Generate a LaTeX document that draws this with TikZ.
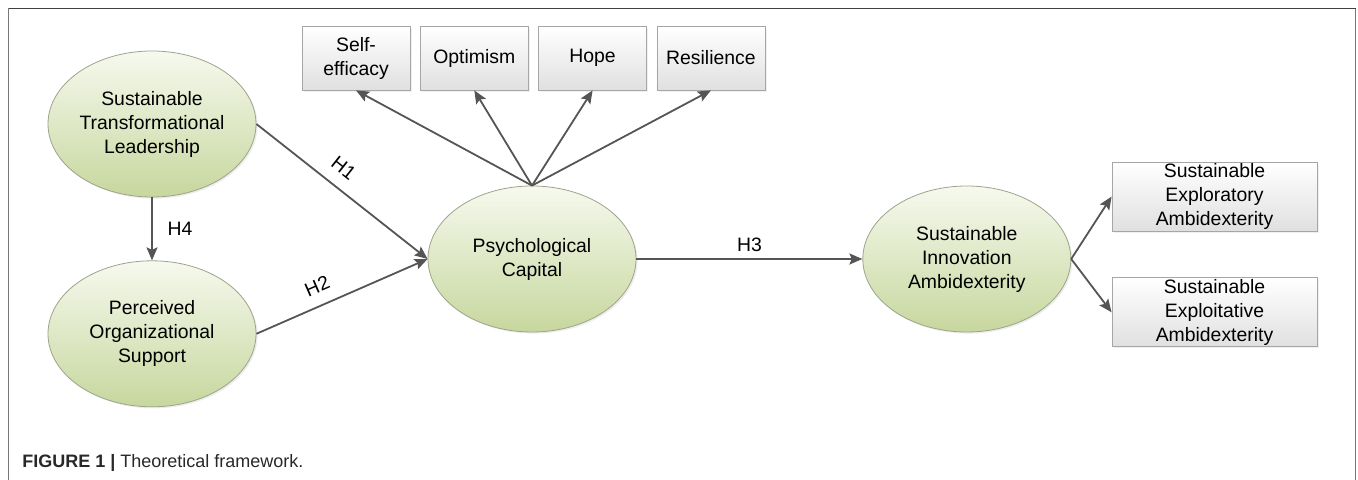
\documentclass[tikz,border=0pt]{standalone}
\usepackage{fontspec}
\setmainfont{Liberation Sans}
\usetikzlibrary{shapes.geometric, arrows.meta}
\usetikzlibrary{positioning, shadows}
\definecolor{ovalline}{RGB}{158,164,138}
\definecolor{ovaltop}{RGB}{246,249,238}
\definecolor{ovalbot}{RGB}{199,215,158}
\definecolor{boxline}{RGB}{166,166,166}
\definecolor{boxbot}{RGB}{224,224,224}
\definecolor{aline}{RGB}{85,85,85}
\definecolor{framecol}{RGB}{120,120,120}
\definecolor{capcol}{RGB}{40,40,40}
\tikzstyle{oval} = [ellipse, draw=ovalline, top color=ovaltop, bottom color=ovalbot, minimum width=104pt, minimum height=73pt, inner sep=0pt, align=center, drop shadow={opacity=0.15, shadow xshift=0.8pt, shadow yshift=-0.8pt}]
\tikzstyle{dim} = [rectangle, draw=boxline, top color=white, bottom color=boxbot, minimum width=54pt, minimum height=32pt, inner sep=0pt, align=center, drop shadow={opacity=0.12, shadow xshift=0.8pt, shadow yshift=-0.8pt}]
\tikzstyle{wide} = [dim, minimum width=102.5pt, minimum height=34.5pt]
\tikzstyle{aro} = [-{Stealth[length=6.5pt, width=5.5pt, inset=1.2pt]}, draw=aline, line width=0.9pt]

\begin{document}
\begin{tikzpicture}[x=0.5pt, y=-0.5pt, font=\fontsize{9.7}{12}\selectfont]
  \useasboundingbox (0,0) rectangle (1358,480);

  % frame round the figure
  \draw [framecol, line width=0.9pt] (8.5,480) -- (8.5,8.5);
  \draw [framecol, line width=0.9pt] (1355.5,8.5) -- (1355.5,480);
  \draw [black!75, line width=0.9pt] (8.5,8.5) -- (1355.5,8.5);

  \node (stl) [oval] at (152,124) {Sustainable\\Transformational\\Leadership};
  \node (pos) [oval, below=31.5pt of stl] {Perceived\\Organizational\\Support};

  \node (psy) [oval] at (532,259) {Psychological\\Capital};
  \node (sia) [oval, right=113pt of psy] {Sustainable\\Innovation\\Ambidexterity};

  \node (selfeff) [dim] at (356,58) {Self-\\efficacy};
  \node (optim) [dim, right=4.75pt of selfeff] {Optimism};
  \node (hope) [dim, right=4.75pt of optim] {Hope};
  \node (resil) [dim, right=4.75pt of hope] {Resilience};

  \node (explor) [wide] at (1214.5,196.5) {Sustainable\\Exploratory\\Ambidexterity};
  \node (exploit) [wide, below=23pt of explor] {Sustainable\\Exploitative\\Ambidexterity};

  \draw [aro] (stl) -- node[right=4pt] {H4} (pos);
  \draw [aro] (stl.east) -- node[pos=0.44, above=2.5pt, sloped] {H1} (psy.west);
  \draw [aro] (pos.east) -- node[pos=0.4, above=2.5pt, sloped] {H2} (psy.west);
  \draw [aro] (psy) -- node[above] {H3} (sia);

  \path (psy.north) edge[aro] (selfeff.south)
                    edge[aro] (optim.south)
                    edge[aro] (hope.south)
                    edge[aro] (resil.south);

  \path (sia.east) edge[aro] (explor.west)
                   edge[aro] (exploit.west);

  \node (caption) [anchor=base west, inner sep=0pt, text=capcol, font=\fontsize{9}{11}\selectfont] at (22,467)
    {\textbf{FIGURE 1 |} Theoretical framework.};

\end{tikzpicture}
\end{document}
